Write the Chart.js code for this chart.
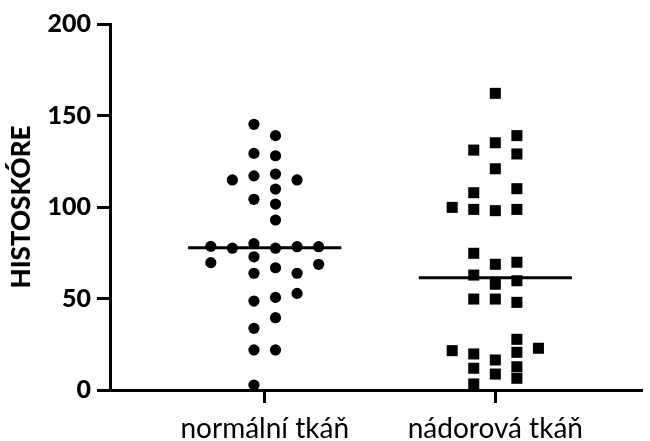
<!DOCTYPE html>
<html><head><meta charset="utf-8">
<script src="https://cdn.jsdelivr.net/npm/chart.js@4"></script>
<style>html,body{margin:0;padding:0;background:#fff}canvas{display:block}</style>
</head><body>
<canvas id="c" width="650" height="441"></canvas>
<script>
// ---- data ----
const categories = ['normální tkáň', 'nádorová tkáň'];
const yTicks = [0, 50, 100, 150, 200];
const yTitle = 'HISTOSKÓRE';

const normalValues = [145.2, 139, 129.3, 128, 114.8, 117, 118, 114.8, 109.8, 104.2, 101.6, 92.9,
  78.5, 77.5, 80, 77.5, 78.3, 78.3,
  69.6, 72.8, 68.7, 66.8, 63.8, 63.8, 48.6, 50.6, 52.8, 39.5, 33.7, 21.9, 21.9, 2.7];
const normalLanes = [-0.5, 0.5, -0.5, 0.5, -1.5, -0.5, 0.5, 1.5, 0.5, -0.5, 0.5, 0.5,
  -2.5, -1.5, -0.5, 0.5, 1.5, 2.5,
  -2.5, -0.5, 2.5, 0.5, -0.5, 1.5, -0.5, 0.5, 1.5, 0.5, -0.5, -0.5, 0.5, -0.5];

const tumorValues = [162.1, 139, 135.1, 131.1, 129, 120.9, 107.8, 110, 99.8, 98.7, 98, 98.7,
  74.7, 68.7, 69.8, 62.8, 57.8, 59.7, 49.7, 49.7, 47.9,
  27.7, 21.5, 19.7, 20.6, 22.8, 16.4, 11.9, 12.7, 8.7, 6.4, 3.3];
const tumorLanes = [0, 1, 0, -1, 1, 0, -1, 1, -2, -1, 0, 1,
  -1, 0, 1, -1, 0, 1, -1, 0, 1,
  1, -2, -1, 1, 2, 0, -1, 1, 0, 1, -1];

const medians = [77.8, 61.4];

// ---- layout helpers ----
const LANE = 0.0935;   // horizontal spacing of swarm lanes (category units)
const HALF = 0.332;    // half length of the median bar

function swarm(values, lanes, cat) {
  return values.map((v, i) => ({ x: cat + lanes[i] * LANE, y: v }));
}
function medianLine(cat) {
  return [{ x: cat - HALF, y: medians[cat] }, { x: cat + HALF, y: medians[cat] }];
}

const tickFont = { family: 'Lato', weight: '900', size: 25 };

function build() {
  new Chart(document.getElementById('c'), {
    type: 'scatter',
    data: {
      datasets: [
        { type: 'line', data: medianLine(0), borderColor: '#000', borderWidth: 3, pointRadius: 0, fill: false, clip: false },
        { type: 'line', data: medianLine(1), borderColor: '#000', borderWidth: 3, pointRadius: 0, fill: false, clip: false },
        { data: swarm(normalValues, normalLanes, 0), pointStyle: 'circle', pointRadius: 5.6,
          backgroundColor: '#000', borderWidth: 0, clip: false },
        { data: swarm(tumorValues, tumorLanes, 1), pointStyle: 'rect', pointRadius: 7.8,
          backgroundColor: '#000', borderWidth: 0, clip: false }
      ]
    },
    options: {
      responsive: false,
      animation: false,
      events: [],
      layout: { padding: { top: 24, right: 0, bottom: 0, left: 0 } },
      plugins: { legend: { display: false }, tooltip: { enabled: false } },
      scales: {
        x: {
          type: 'linear',
          min: -0.671,
          max: 1.637,
          afterBuildTicks: s => { s.ticks = [0, 1].map(v => ({ value: v })); },
          afterFit: s => { s.height = 51; },
          ticks: {
            callback: v => categories[v],
            font: { family: 'Lato', size: 28 },
            color: '#000',
            padding: 9,
            autoSkip: false,
            maxRotation: 0
          },
          grid: { drawOnChartArea: false, tickLength: 13, tickWidth: 3, tickColor: '#000' },
          border: { color: '#000', width: 3 }
        },
        y: {
          min: 0,
          max: 200,
          afterBuildTicks: s => { s.ticks = yTicks.map(v => ({ value: v })); },
          afterFit: s => { s.width = 110; },
          ticks: { font: tickFont, color: '#000', padding: 6 },
          grid: { drawOnChartArea: false, tickLength: 13, tickWidth: 3, tickColor: '#000' },
          border: { color: '#000', width: 3 },
          title: { display: true, text: yTitle, color: '#000',
                   font: { family: 'Lato', weight: '900', size: 26 }, padding: { top: 6, bottom: 0 } }
        }
      }
    }
  });
}
if (document.fonts && document.fonts.load) {
  Promise.all([
    document.fonts.load('900 25px Lato'),
    document.fonts.load('28px Lato')
  ]).then(build, build);
} else { build(); }
</script>
</body></html>
